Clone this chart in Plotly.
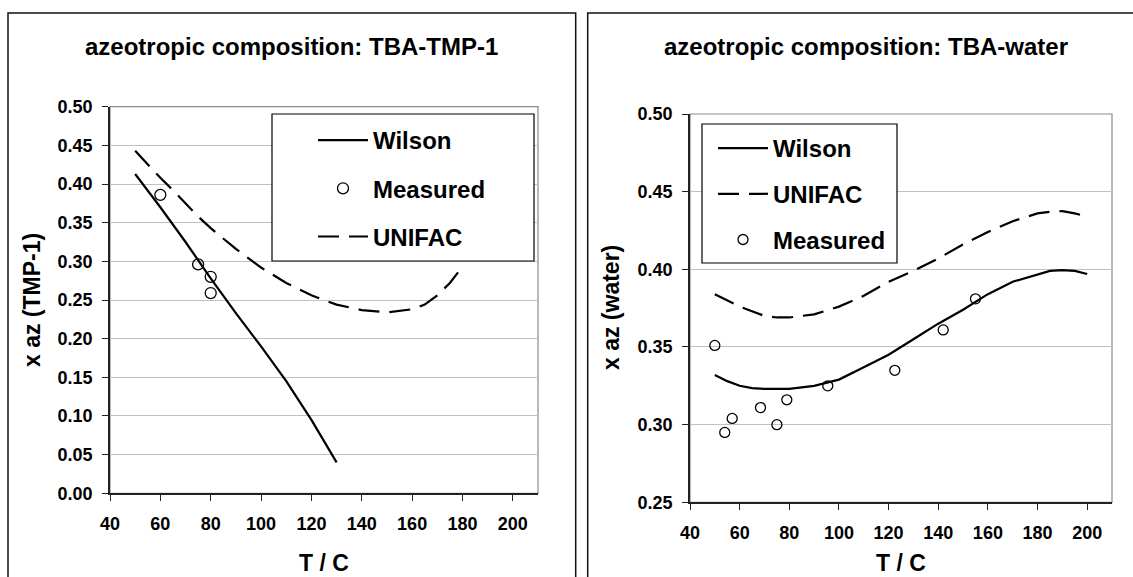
import plotly.graph_objects as go

W, H = 1133, 577

# ---------------- data ----------------
# Left panel: TBA-TMP-1
wilson1_T = [50, 60, 70, 80, 90, 100, 110, 120, 130]
wilson1_x = [0.413, 0.370, 0.325, 0.278, 0.233, 0.190, 0.145, 0.095, 0.040]
unifac1_T = [50, 55, 60, 65, 70, 75, 80, 90, 100, 110, 120, 130, 140, 150, 160, 165, 170, 175, 180]
unifac1_x = [0.443, 0.425, 0.408, 0.392, 0.375, 0.358, 0.343, 0.316, 0.292, 0.272, 0.256, 0.244,
             0.237, 0.234, 0.238, 0.244, 0.256, 0.272, 0.293]
meas1_T = [60, 75, 80, 80]
meas1_x = [0.386, 0.296, 0.280, 0.259]

# Right panel: TBA-water
wilson2_T = [50, 55, 60, 65, 70, 80, 90, 100, 110, 120, 130, 140, 150, 160, 170, 180, 185, 190, 195, 200]
wilson2_x = [0.332, 0.328, 0.325, 0.3235, 0.323, 0.323, 0.325, 0.329, 0.337, 0.345, 0.355, 0.365,
             0.374, 0.384, 0.392, 0.397, 0.399, 0.3995, 0.399, 0.397]
unifac2_T = [50, 55, 60, 65, 70, 75, 80, 90, 100, 110, 120, 130, 140, 150, 160, 170, 180, 185, 190, 195, 200]
unifac2_x = [0.384, 0.380, 0.376, 0.373, 0.370, 0.369, 0.369, 0.371, 0.376, 0.383, 0.392, 0.399,
             0.407, 0.416, 0.424, 0.431, 0.436, 0.437, 0.4375, 0.436, 0.434]
meas2_T = [50, 54, 57, 68.4, 75, 79, 95.5, 122.5, 142, 155]
meas2_x = [0.351, 0.295, 0.304, 0.311, 0.300, 0.316, 0.325, 0.335, 0.361, 0.381]

x_ticks = [40, 60, 80, 100, 120, 140, 160, 180, 200]

# ---------------- helpers (pixel -> paper) ----------------
def px(x):
    return x / W

def py(y):
    return 1 - y / H

FONT = "Liberation Sans, Arial, sans-serif"
BLACK = "#000000"
GRID = "#c0c0c0"

fig = go.Figure()
line_w = 2.2
dash = "21px,10px"

# left traces
fig.add_trace(go.Scatter(x=wilson1_T, y=wilson1_x, mode="lines", name="Wilson",
                         line=dict(color=BLACK, width=line_w), xaxis="x", yaxis="y",
                         legend="legend", legendgroup="a"))
fig.add_trace(go.Scatter(x=meas1_T, y=meas1_x, mode="markers", name="Measured",
                         marker=dict(symbol="circle-open", size=11, color=BLACK, line=dict(width=1.3)),
                         xaxis="x", yaxis="y", legend="legend", legendgroup="b"))
fig.add_trace(go.Scatter(x=unifac1_T, y=unifac1_x, mode="lines", name="UNIFAC",
                         line=dict(color=BLACK, width=line_w, dash=dash), xaxis="x", yaxis="y",
                         legend="legend", legendgroup="c"))

# right traces
fig.add_trace(go.Scatter(x=wilson2_T, y=wilson2_x, mode="lines", name="Wilson",
                         line=dict(color=BLACK, width=line_w), xaxis="x2", yaxis="y2",
                         legend="legend2", legendgroup="d"))
fig.add_trace(go.Scatter(x=unifac2_T, y=unifac2_x, mode="lines", name="UNIFAC",
                         line=dict(color=BLACK, width=line_w, dash=dash), xaxis="x2", yaxis="y2",
                         legend="legend2", legendgroup="e"))
fig.add_trace(go.Scatter(x=meas2_T, y=meas2_x, mode="markers", name="Measured",
                         marker=dict(symbol="circle-open", size=10, color=BLACK, line=dict(width=1.3)),
                         xaxis="x2", yaxis="y2", legend="legend2", legendgroup="f"))

tickfont = dict(family=FONT, size=18, color=BLACK, weight="bold")
common_x = dict(range=[40, 210], tickmode="array", tickvals=x_ticks, ticks="outside", ticklen=6,
                tickcolor="#222", tickwidth=1.3, showline=True, linecolor="#222", linewidth=1.5,
                showgrid=False, zeroline=False, tickfont=tickfont, ticklabelstandoff=7, automargin=False)
common_y = dict(ticks="outside", ticklen=6, tickcolor="#222", tickwidth=1.3, showline=True,
                linecolor="#222", linewidth=1.5, showgrid=True, gridcolor=GRID, gridwidth=1,
                zeroline=False, tickfont=tickfont, tickformat=".2f", dtick=0.05, ticklabelstandoff=6,
                automargin=False)

L = dict(x0=110, x1=538, y0=106.7, y1=493.3)
R = dict(x0=690, x1=1112, y0=114, y1=502.3)

fig.update_layout(
    width=W, height=H, margin=dict(l=0, r=0, t=0, b=0, pad=0, autoexpand=False),
    paper_bgcolor="white", plot_bgcolor="white",
    xaxis=dict(domain=[px(L["x0"]), px(L["x1"])], anchor="y", **common_x),
    yaxis=dict(domain=[py(L["y1"]), py(L["y0"])], anchor="x", range=[0, 0.5], tick0=0, **common_y),
    xaxis2=dict(domain=[px(R["x0"]), px(R["x1"])], anchor="y2", **common_x),
    yaxis2=dict(domain=[py(R["y1"]), py(R["y0"])], anchor="x2", range=[0.25, 0.5], tick0=0.25, **common_y),
    legend=dict(x=px(313), y=py(118), xanchor="left", yanchor="top", bgcolor="rgba(0,0,0,0)",
                borderwidth=0, font=dict(family=FONT, size=24, color=BLACK, weight="bold"),
                tracegroupgap=14, itemwidth=50, traceorder="grouped"),
    legend2=dict(x=px(713), y=py(126), xanchor="left", yanchor="top", bgcolor="rgba(0,0,0,0)",
                 borderwidth=0, font=dict(family=FONT, size=24, color=BLACK, weight="bold"),
                 tracegroupgap=11.5, itemwidth=50, traceorder="grouped"),
    showlegend=True,
)

shapes = []
# plot area grey border
for xr, yr in [("x domain", "y domain"), ("x2 domain", "y2 domain")]:
    shapes.append(dict(type="rect", xref=xr, yref=yr, x0=0, x1=1, y0=0, y1=1,
                       line=dict(color="#8c8c8c", width=1.2), layer="below"))
# legend boxes (opaque)
shapes.append(dict(type="rect", xref="paper", yref="paper", x0=px(272), x1=px(534), y0=py(261), y1=py(114),
                   fillcolor="white", line=dict(color=BLACK, width=1.2), layer="above"))
shapes.append(dict(type="rect", xref="paper", yref="paper", x0=px(702), x1=px(897), y0=py(263), y1=py(124),
                   fillcolor="white", line=dict(color=BLACK, width=1.2), layer="above"))
# panel borders
shapes.append(dict(type="rect", xref="paper", yref="paper", x0=px(8), x1=px(575.7), y0=py(600), y1=py(13),
                   line=dict(color="#111", width=1.5)))
shapes.append(dict(type="rect", xref="paper", yref="paper", x0=px(587.7), x1=px(1160), y0=py(600), y1=py(13),
                   line=dict(color="#111", width=1.5)))
fig.update_layout(shapes=shapes)

def ann(text, x, y, size, angle=0):
    return dict(text=text, x=px(x), y=py(y), xref="paper", yref="paper", showarrow=False,
                xanchor="center", yanchor="middle", textangle=angle,
                font=dict(family=FONT, size=size, color=BLACK, weight="bold"))

fig.update_layout(annotations=[
    ann("azeotropic composition: TBA-TMP-1", 291.5, 47, 24),
    ann("azeotropic composition: TBA-water", 865.6, 47, 24),
    ann("T / C", 324, 563, 23),
    ann("T / C", 901, 563, 23),
    ann("x az (TMP-1)", 32, 300, 23, -90),
    ann("x az (water)", 611, 308, 23, -90),
])

fig.write_html("out.html")
